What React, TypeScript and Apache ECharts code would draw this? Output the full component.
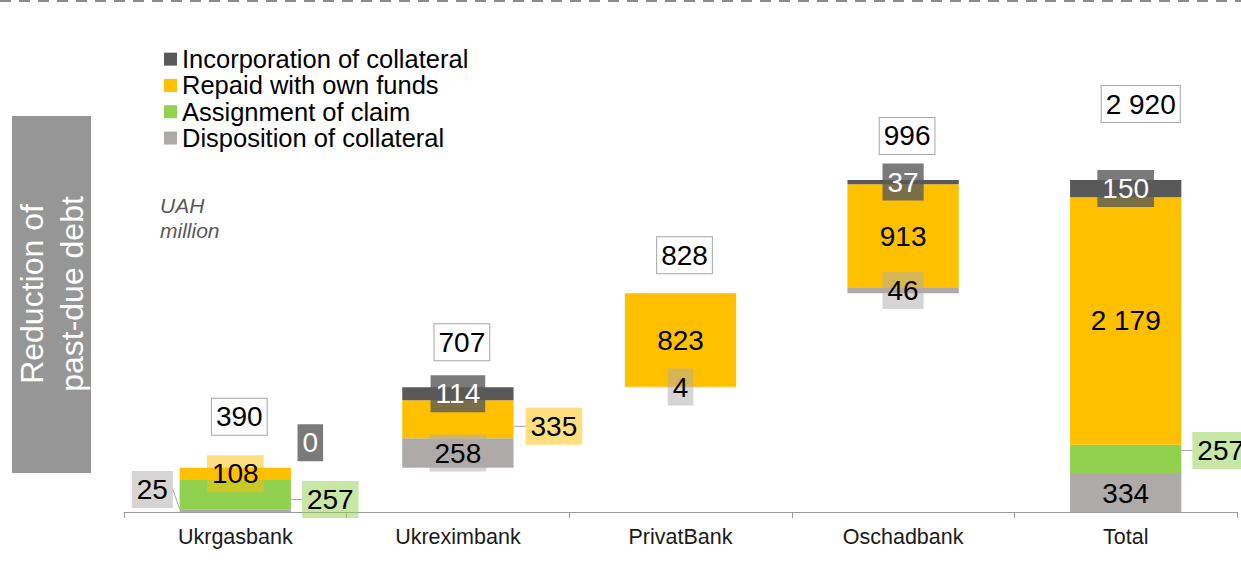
import React, { useEffect, useRef } from "react";
import * as echarts from "echarts";

const categories = ["Ukrgasbank", "Ukreximbank", "PrivatBank", "Oschadbank", "Total"];
const disposition: (number | null)[] = [25, 258, 4, 46, 334];
const assignment: (number | null)[] = [257, null, null, null, 257];
const repaid: (number | null)[] = [108, 335, 823, 913, 2179];
const incorporation: (number | null)[] = [0, 114, null, 37, 150];
const totals = [390, 707, 828, 996, 2920];
const isTotalColumn = [false, false, false, false, true];

const legendNames = [
  "Incorporation of collateral",
  "Repaid with own funds",
  "Assignment of claim",
  "Disposition of collateral",
];

const FONT = "'Liberation Sans', Arial, sans-serif";

// label shifts (styling) for labels moved out of their segment
const moved: Record<string, Record<number, { dx: number; dy: number; leader: boolean }>> = {
  disposition: { 0: { dx: -83, dy: -21, leader: true } },
  assignment: { 0: { dx: 95, dy: 5, leader: true }, 4: { dx: 95, dy: -9, leader: true } },
  repaid: { 1: { dx: 96, dy: 7, leader: true } },
  incorporation: { 0: { dx: 75, dy: -25, leader: false } },
};
const totalOffsets = [
  [4, -51],
  [4, -45],
  [4, -38],
  [4, -44],
  [15, -76],
];

const fmt = (v: number) => String(Math.round(v)).replace(/\B(?=(\d{3})+(?!\d))/g, " ");

export default function App() {
  const ref = useRef<HTMLDivElement>(null);
  useEffect(() => {
    if (!ref.current) return;
    const chart = echarts.init(ref.current, undefined, { renderer: "svg" });

    // waterfall bases from bank totals
    const base: number[] = [];
    let running = 0;
    categories.forEach((_, i) => {
      if (isTotalColumn[i]) base.push(0);
      else {
        base.push(running);
        running += totals[i];
      }
    });
    const tops = categories.map(
      (_, i) =>
        base[i] +
        [disposition, assignment, repaid, incorporation].reduce((s, arr) => s + (arr[i] ?? 0), 0)
    );

    const segs = [
      { key: "disposition", name: legendNames[3], data: disposition, color: "#AEAAAA", bg: "rgba(174,170,170,0.5)", text: "#000" },
      { key: "assignment", name: legendNames[2], data: assignment, color: "#92D050", bg: "rgba(146,208,80,0.5)", text: "#000" },
      { key: "repaid", name: legendNames[1], data: repaid, color: "#FFC000", bg: "rgba(255,192,0,0.5)", text: "#000" },
      { key: "incorporation", name: legendNames[0], data: incorporation, color: "#595959", bg: "rgba(89,89,89,0.8)", text: "#fff" },
    ];

    const barSeries = segs.map((s) => ({
      type: "bar",
      name: s.name,
      stack: "w",
      barWidth: "50%",
      itemStyle: { color: s.color },
      z: 3,
      label: {
        show: true,
        position: "inside",
        formatter: (p: any) => fmt(Number(p.value)),
        fontSize: 28,
        fontFamily: FONT,
        color: s.text,
        textBorderWidth: 0,
        backgroundColor: s.bg,
        padding: [3, 5],
        lineHeight: 31,
      },
      labelLine: { show: false },
      labelLayout: (p: any) => {
        const m = moved[s.key]?.[p.dataIndex];
        return m ? { dx: m.dx, dy: m.dy } : {};
      },
      data: s.data.map((v, i) => {
        if (v === null) return "-";
        const m = moved[s.key]?.[i];
        const item: any = { value: v };
        if (m && m.leader) item.labelLine = { show: true, lineStyle: { color: "#A6A6A6", width: 1 } };
        return item;
      }),
    }));

    chart.setOption({
      animation: false,
      grid: { left: 124, right: 4, top: 171, bottom: 51, outerBoundsMode: "none" },
      legend: {
        data: legendNames,
        orient: "vertical",
        left: 164,
        top: 46,
        padding: 0,
        itemGap: 0,
        icon: "rect",
        itemWidth: 13,
        itemHeight: 13,
        selectedMode: false,
        textStyle: { fontSize: 25.5, lineHeight: 26.3, color: "#000", fontFamily: FONT },
      },
      xAxis: {
        type: "category",
        data: categories,
        axisLine: { lineStyle: { color: "#9a9a9a", width: 1 } },
        axisTick: { show: true, length: 6, lineStyle: { color: "#9a9a9a" } },
        axisLabel: { fontSize: 21.5, color: "#1a1a1a", margin: 14, fontFamily: FONT },
      },
      yAxis: { type: "value", min: 0, max: 3000, show: false },
      graphic: [
        {
          type: "line",
          shape: { x1: 0, y1: 1, x2: 1241, y2: 1 },
          style: { stroke: "#8c8c8c", lineWidth: 2, lineDash: [11, 8] },
        },
        { type: "rect", shape: { x: 12, y: 116, width: 79, height: 357 }, style: { fill: "#969696" } },
        {
          type: "text",
          x: 52,
          y: 294,
          rotation: Math.PI / 2,
          style: {
            text: "Reduction of\npast-due debt",
            fill: "#fff",
            font: `32px ${FONT}`,
            lineHeight: 40,
            textAlign: "center",
            textVerticalAlign: "middle",
          },
        },
        {
          type: "text",
          x: 160,
          y: 193,
          style: {
            text: "UAH\nmillion",
            fill: "#595959",
            font: `italic 21px ${FONT}`,
            lineHeight: 25,
          },
        },
      ],
      series: [
        {
          type: "bar",
          name: "base",
          stack: "w",
          barWidth: "50%",
          silent: true,
          itemStyle: { color: "transparent" },
          label: { show: false },
          data: base,
        },
        ...barSeries,
        {
          type: "scatter",
          name: "totals",
          symbolSize: 1,
          itemStyle: { color: "rgba(0,0,0,0)", opacity: 1 },
          z: 10,
          label: {
            show: true,
            position: "inside",
            formatter: (p: any) => fmt(totals[p.dataIndex]),
            fontSize: 28,
            fontFamily: FONT,
            color: "#000",
            opacity: 1,
            backgroundColor: "#fff",
            borderColor: "#A6A6A6",
            borderWidth: 1,
            padding: [3, 4],
            lineHeight: 30,
          },
          data: tops.map((t, i) => ({ value: t, label: { offset: totalOffsets[i] } })),
        },
      ],
    });
    return () => chart.dispose();
  }, []);
  return (
    <div
      ref={ref}
      style={{ position: "fixed", left: 0, top: 0, width: 1241, height: 563, background: "#fff" }}
    />
  );
}
